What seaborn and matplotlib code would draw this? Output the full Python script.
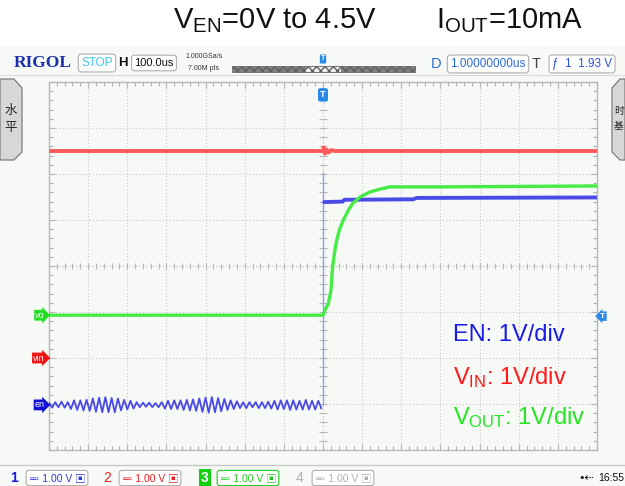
import numpy as np
import pandas as pd
import matplotlib
matplotlib.use("Agg")
import matplotlib.pyplot as plt
from matplotlib.patches import Rectangle, Polygon
from matplotlib.transforms import blended_transform_factory
import seaborn as sns

# scope settings: 100 us/div, 1 V/div, channel ground offsets in divisions
time_range = (-700, 700)
en_offset = -3.02
vin_offset = -2.0
vout_offset = -1.07

# EN ringing before the step, read peak by peak (V), one sample every 8 us
en_before_t = np.arange(-700, 0, 8)
en_before_v = [
    0.05, -0.06, 0.06, -0.05, 0.07, -0.06, 0.06,
    -0.09, 0.10, -0.11, 0.10, -0.12, 0.11, -0.13,
    0.14, -0.15, 0.16, -0.16, 0.17, -0.16, 0.15, -0.16, 0.14,
    -0.12, 0.11, -0.10, 0.09, -0.08,
    0.06, -0.05, 0.05, -0.04, 0.05, -0.05, 0.04, -0.05, 0.06,
    -0.08, 0.09, -0.09, 0.10, -0.09, 0.10, -0.11,
    0.11, -0.12, 0.12, -0.13, 0.14,
    -0.15, 0.16, -0.17, 0.17, -0.16, 0.15, -0.14, 0.13,
    -0.11, 0.10, -0.09, 0.08,
    -0.07, 0.06, -0.07, 0.06, -0.05, 0.06, -0.07, 0.06, -0.07, 0.07, -0.08,
    0.09, -0.10, 0.10, -0.09, 0.10, -0.11, 0.10, -0.10,
    0.09, -0.10, 0.11, -0.10, 0.09, -0.10, 0.09, -0.08,
]
# EN after the step
en_after_t = [0, 0, 3, 50, 55, 230, 240, 700]
en_after_v = [0.0, 5.07, 4.41, 4.42, 4.46, 4.47, 4.50, 4.51]

# VIN
vin_t = [-700, 0, 2, 5, 10, 15, 22, 30, 700]
vin_v = [4.5, 4.5, 4.58, 4.44, 4.53, 4.47, 4.52, 4.5, 4.5]

# VOUT
vout_t = [-700, 0, 5, 13.5, 20.4, 23.8, 28.1, 33.2, 41.6, 51.9, 64.6, 75.9,
          94.5, 120, 150, 171, 300, 500, 700]
vout_v = [0, 0, 0.11, 0.25, 0.54, 0.98, 1.27, 1.56, 1.85, 2.07, 2.28, 2.43,
          2.57, 2.68, 2.75, 2.79, 2.79, 2.80, 2.81]

BLUE = "#4a4ae8"
RED = "#ff5a5a"
GREEN = "#45ec45"

sns.set_style("white")
plt.rcParams['font.family'] = ['Liberation Sans', 'Noto Sans CJK SC', 'DejaVu Sans']
plt.rcParams['mathtext.fontset'] = 'custom'
plt.rcParams['mathtext.rm'] = 'Liberation Sans'
plt.rcParams['mathtext.it'] = 'Liberation Sans'

fig = plt.figure(figsize=(6.25, 4.86), dpi=100)
fig.patch.set_facecolor("white")


def P(x, y):
    return x / 625, 1 - y / 486


# screen background
fig.patches.append(Rectangle(P(0, 486), 1, 1 - 46 / 486, transform=fig.transFigure,
                             fc="#f7f9f7", ec="none", zorder=-5))
fig.add_artist(plt.Line2D([0, 1], [P(0, 75)[1]] * 2, color="#d8dad8", lw=0.8, zorder=-4))
fig.add_artist(plt.Line2D([0, 1], [P(0, 465)[1]] * 2, color="#c8cac8", lw=1.0, zorder=-4))

ax = fig.add_axes([49 / 625, 36 / 486, 548 / 625, 368 / 486])
ax.set_zorder(2)
ax.set_facecolor("#f6f9f6")
ax.set_xlim(*time_range)
ax.set_ylim(-4, 4)

# graticule
for x in range(-600, 700, 100):
    if x != 0:
        ax.axvline(x, color="#c8c8c8", lw=0.8, ls=(0, (1, 2)), zorder=1)
for y in range(-3, 4):
    if y != 0:
        ax.axhline(y, color="#c8c8c8", lw=0.8, ls=(0, (1, 2)), zorder=1)
ax.axvline(0, color="#bcbcbc", lw=0.8, ls=(0, (1, 2)), zorder=1)
ax.axhline(0, color="#bcbcbc", lw=0.8, ls=(0, (1, 2)), zorder=1)
ax.vlines(np.arange(-700, 701, 20), -0.07, 0.07, color="#b8b8b8", lw=0.8, zorder=1)
ax.hlines(np.arange(-4, 4.01, 0.2), -9, 9, color="#b8b8b8", lw=0.8, zorder=1)
ax.set_xticks(np.arange(-700, 701, 100))
ax.set_xticks(np.arange(-700, 701, 20), minor=True)
ax.set_yticks(np.arange(-4, 4.01, 1))
ax.set_yticks(np.arange(-4, 4.01, 0.2), minor=True)
ax.tick_params(which="both", direction="in", top=True, right=True, bottom=True, left=True,
               labelbottom=False, labelleft=False, color="#b0b0b0", width=0.8)
ax.tick_params(which="major", length=4)
ax.tick_params(which="minor", length=3)
for s in ax.spines.values():
    s.set_color("#b8b8b8")
    s.set_linewidth(1.0)

# traces
en_before = pd.DataFrame({"t": en_before_t, "v": np.array(en_before_v) + en_offset})
en_after = pd.DataFrame({"t": en_after_t, "v": np.array(en_after_v) + en_offset})
vin = pd.DataFrame({"t": vin_t, "v": np.array(vin_v) + vin_offset})
vout = pd.DataFrame({"t": vout_t, "v": np.array(vout_v) + vout_offset})

sns.lineplot(data=vin, x="t", y="v", ax=ax, color=RED, lw=2.8, estimator=None, sort=False, zorder=3)
sns.lineplot(data=en_before, x="t", y="v", ax=ax, color=BLUE, lw=1.3, estimator=None, sort=False, zorder=4)
sns.lineplot(data=en_after.iloc[:2], x="t", y="v", ax=ax, color="#9a9af0", lw=1.0, estimator=None, sort=False, zorder=4)
sns.lineplot(data=en_after.iloc[2:], x="t", y="v", ax=ax, color=BLUE, lw=2.8, estimator=None, sort=False, zorder=4)
sns.lineplot(data=vout, x="t", y="v", ax=ax, color=GREEN, lw=2.4, estimator=None, sort=False, zorder=5)
ax.set_xlabel("")
ax.set_ylabel("")

# channel markers
tr = blended_transform_factory(ax.transAxes, ax.transData)
for lab, off, col in [("vo", vout_offset, "#22dd22"), ("vin", vin_offset, "#ee1111"), ("en", en_offset, "#1010d0")]:
    ax.text(-0.008, off, lab, transform=tr, ha="right", va="center", fontsize=6.5, color="white",
            bbox=dict(boxstyle="rarrow,pad=0.1", fc=col, ec="none"), clip_on=False, zorder=6)
ax.text(1.006, en_offset + 1.93, "T", transform=tr, ha="left", va="center", fontsize=6, color="white",
        fontweight="bold", bbox=dict(boxstyle="larrow,pad=0.15", fc="#2a8ae8", ec="none"), clip_on=False)
ax.text(0, 3.72, "T", ha="center", va="center", fontsize=6.5, color="white", fontweight="bold",
        bbox=dict(boxstyle="round,pad=0.25", fc="#2a8ae8", ec="none"), zorder=6)

# scale labels
fig.text(*P(453, 335), "EN: 1V/div", color="#1a1ae6", fontsize=17, va="center", zorder=5)
fig.text(*P(453, 378), r"V$_{\mathrm{IN}}$: 1V/div", color="#ff1a1a", fontsize=17, va="center", zorder=5)
fig.text(*P(453, 418), r"V$_{\mathrm{OUT}}$: 1V/div", color="#22e622", fontsize=17, va="center", zorder=5)

# title
fig.text(*P(275, 21), r"V$_{\mathrm{EN}}$=0V to 4.5V", fontsize=21, ha="center", va="center", color="#111111")
fig.text(*P(510, 21), r"I$_{\mathrm{OUT}}$=10mA", fontsize=21, ha="center", va="center", color="#111111")

# header
fig.text(*P(14, 63), "RIGOL", family="Liberation Serif", fontweight="bold", fontsize=12.5,
         color="#1a2fa8", va="center")
box = dict(boxstyle="round,pad=0.25", fc="white", ec="#b0b0b0", lw=0.8)
fig.text(*P(97, 63), "STOP", fontsize=8.5, color="#3cc8ee", ha="center", va="center", bbox=box)
fig.text(*P(123, 63), "H", fontsize=9.5, fontweight="bold", color="#111111", ha="center", va="center")
fig.text(*P(154, 63), "100.0us", fontsize=8, color="#111111", ha="center", va="center", bbox=box)
fig.text(*P(204, 57), "1.000GSa/s", fontsize=5, color="#333333", ha="center", va="center")
fig.text(*P(204, 69), "7.00M pts", fontsize=5, color="#333333", ha="center", va="center")
fig.patches.append(Rectangle(P(232, 72), 183 / 625, 6 / 486, transform=fig.transFigure,
                             fc="#808080", ec="#606060", lw=0.5, hatch="xxxx"))
fig.patches.append(Rectangle(P(305, 72), 36 / 625, 6 / 486, transform=fig.transFigure,
                             fc="#f0f0f0", ec="#606060", lw=0.5, hatch="xxxx"))
fig.text(*P(323, 59), "T", fontsize=5, color="white", fontweight="bold", ha="center", va="center",
         bbox=dict(boxstyle="round,pad=0.15", fc="#2a8ae8", ec="none"))
fig.text(*P(436, 64), "D", fontsize=10.5, color="#2a6ad8", ha="center", va="center")
fig.text(*P(488, 64), "1.00000000us", fontsize=8.5, color="#2a6ad8", ha="center", va="center", bbox=box)
fig.text(*P(536, 64), "T", fontsize=10.5, color="#444444", ha="center", va="center")
fig.text(*P(582, 64), "ƒ  1  1.93 V", fontsize=8.5, color="#2a50d8", ha="center", va="center", bbox=box)

# side tabs
fig.patches.append(Polygon([P(0, 79), P(14, 79), P(22, 88), P(22, 152), P(14, 160), P(0, 160)],
                           closed=True, transform=fig.transFigure, fc="#d6d8d6", ec="#707070", lw=0.8))
fig.text(*P(11, 111), "水", fontsize=9, ha="center", va="center", color="#222222")
fig.text(*P(11, 128), "平", fontsize=9, ha="center", va="center", color="#222222")
fig.patches.append(Polygon([P(625, 79), P(620, 79), P(612, 88), P(612, 152), P(620, 160), P(625, 160)],
                           closed=True, transform=fig.transFigure, fc="#d6d8d6", ec="#707070", lw=0.8))
fig.text(*P(619, 111), "时", fontsize=7, ha="center", va="center", color="#222222")
fig.text(*P(619, 126), "基", fontsize=7, ha="center", va="center", color="#222222")

# bottom status bar
fig.text(*P(14, 478), "1", fontsize=10, fontweight="bold", color="#1a1ae0", ha="center", va="center")
fig.text(*P(57, 478), "≕ 1.00 V ▣", fontsize=7.5, color="#2a3ae0", ha="center", va="center", bbox=box)
fig.text(*P(107, 478), "2", fontsize=10, color="#ee2020", ha="center", va="center")
fig.text(*P(150, 478), "≕ 1.00 V ▣", fontsize=7.5, color="#ee2020", ha="center", va="center", bbox=box)
fig.text(*P(205, 478), "3", fontsize=10, fontweight="bold", color="white", ha="center", va="center",
         bbox=dict(boxstyle="square,pad=0.15", fc="#10d010", ec="none"))
fig.text(*P(248, 478), "≕ 1.00 V ▣", fontsize=7.5, color="#20cc20", ha="center", va="center",
         bbox=dict(boxstyle="round,pad=0.25", fc="white", ec="#20cc20", lw=0.8))
fig.text(*P(300, 478), "4", fontsize=10, color="#b0b0b0", ha="center", va="center")
fig.text(*P(343, 478), "≕ 1.00 V ▣", fontsize=7.5, color="#b0b0b0", ha="center", va="center", bbox=box)
fig.text(*P(586, 478), "•⇠", fontsize=8, color="#111111", ha="center", va="center", family="DejaVu Sans")
fig.text(*P(611, 478), "16:55", fontsize=7.5, color="#111111", ha="center", va="center")

fig.savefig("out.png", dpi=100)
